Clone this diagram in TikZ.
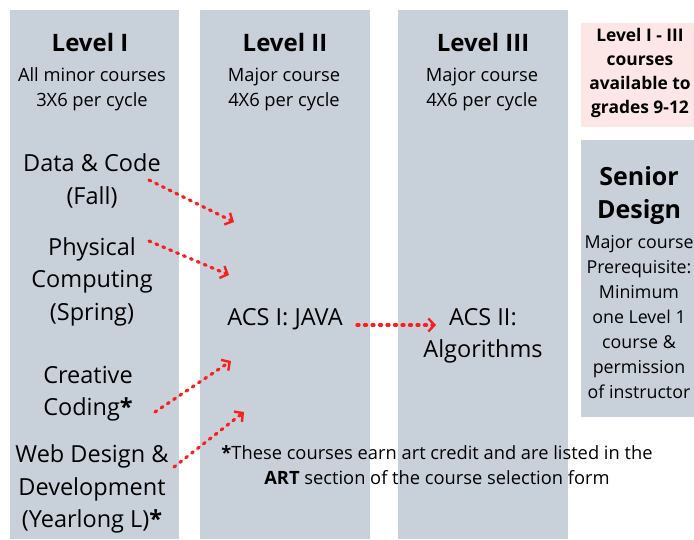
\documentclass[tikz,border=0pt]{standalone}
\usepackage{fontspec}
\setmainfont{Open Sans}
\usetikzlibrary{arrows.meta}
\definecolor{colgray}{RGB}{200,208,218}
\definecolor{pinkbg}{RGB}{253,230,230}
\definecolor{arrred}{RGB}{250,30,30}
\tikzset{
  colbox/.style={fill=colgray, draw=none},
  head/.style={font=\fontsize{24}{28}\selectfont\bfseries, align=center, inner sep=0pt},
  sdhead/.style={font=\fontsize{25}{33}\selectfont\bfseries, align=center, inner sep=0pt},
  sub/.style={font=\fontsize{18.3}{25}\selectfont, align=center, inner sep=0pt},
  course/.style={font=\fontsize{23.5}{32.5}\selectfont, align=center, inner sep=0pt},
  side/.style={font=\fontsize{17.4}{24}\selectfont\bfseries, align=center, inner sep=0pt},
  sidetext/.style={font=\fontsize{17.8}{25.1}\selectfont, align=center, inner sep=0pt},
  arr/.style={draw=arrred, line width=3.2pt, line cap=round, dash pattern=on 2pt off 5.5pt,
    -{Straight Barb[length=6pt,width=13pt,line width=2.4pt]}},
}
\begin{document}
\begin{tikzpicture}[x=1pt,y=-1pt]
\useasboundingbox (0,0) rectangle (694,539);
\fill[white] (0,0) rectangle (694,539);
% columns
\path[colbox] (10,10) rectangle (179,539);
\path[colbox] (200,10) rectangle (370,539);
\path[colbox] (398,10) rectangle (568,539);
\path[fill=pinkbg] (581,23) rectangle (694,127);
\path[colbox] (581,140) rectangle (694,417);
% headings
\node[head] (h1) at (90,42) {Level I};
\node[sub] (s1) at (92,89) {All minor courses\\3X6 per cycle};
\node[head] (h2) at (285,42) {Level II};
\node[sub] (s2) at (284,89) {Major course\\4X6 per cycle};
\node[head] (h3) at (483,42) {Level III};
\node[sub] (s3) at (482,89) {Major course\\4X6 per cycle};
% side boxes
\node[side] (pk) at (640,73) {Level I - III\\courses\\available to\\grades 9-12};
\node[sdhead] (sd) at (639,195.5) {Senior\\Design};
\node[sidetext] (sdt) at (639,317) {Major course\\Prerequisite:\\Minimum\\one Level 1\\course \&\\permission\\of instructor};
% courses
\node[course] (dc) at (92,181) {Data \& Code\\(Fall)};
\node[course] (pc) at (92,281.5) {Physical\\Computing\\(Spring)};
\node[course] (cc) at (88,393.5) {Creative\\Coding\textbf{*}};
\node[course] (wd) at (92,489) {Web Design \&\\Development\\(Yearlong L)\textbf{*}};
\node[course] (j) at (285,319.5) {ACS I: JAVA};
\node[course] (alg) at (483,336) {ACS II:\\Algorithms};
% footnote
\node[sub] (fn) at (437,465) {\textbf{*}These courses earn art credit and are listed in the\\\textbf{ART} section of the course selection form};
% arrow end points
\coordinate (a1s) at (149,180);
\coordinate (a1e) at (234,222);
\coordinate (a2s) at (149,241);
\coordinate (a2e) at (229,275);
\coordinate (a3s) at (155,412);
\coordinate (a3e) at (231,361);
\coordinate (a4s) at (174,467);
\coordinate (a4e) at (244,412);
\coordinate (a5s) at (357,325);
\coordinate (a5e) at (436,325);
\draw[arr] (a1s) -- (a1e);
\draw[arr] (a2s) -- (a2e);
\draw[arr] (a3s) -- (a3e);
\draw[arr] (a4s) -- (a4e);
\draw[arr] (a5s) -- (a5e);
\end{tikzpicture}
\end{document}
